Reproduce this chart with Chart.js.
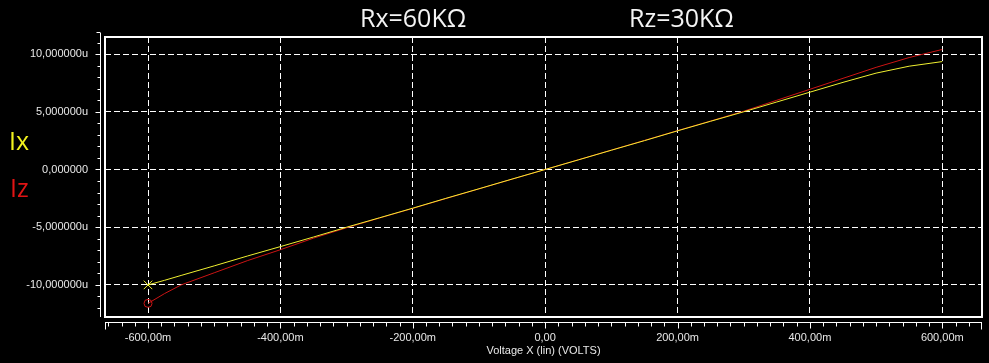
<!DOCTYPE html>
<html>
<head>
<meta charset="utf-8">
<script src="https://cdn.jsdelivr.net/npm/chart.js@4.4.1/dist/chart.umd.min.js"></script>
<style>
  html, body { margin: 0; padding: 0; background: #000; }
  #wrap { position: relative; width: 989px; height: 363px; background: #000; }
  #plot { position: absolute; left: 0; top: 0; }
  .note { position: absolute; font-family: "Open Sans", sans-serif; font-size: 25px; line-height: 1; white-space: nowrap; }
</style>
</head>
<body>
<div id="wrap">
  <canvas id="plot" width="989" height="363"></canvas>
  <div class="note" style="left:360px; top:5px; color:#f4f4f4;">Rx=60KΩ</div>
  <div class="note" style="left:629px; top:5px; color:#f4f4f4;">Rz=30KΩ</div>
  <div class="note" style="left:9px; top:128px; color:#f2f21e;">Ix</div>
  <div class="note" style="left:10px; top:175px; color:#e01414;">Iz</div>
</div>
<script>
// sweep voltage (mV) and the two currents (uA)
const voltage = [-600, -575, -550, -500, -450, -400, -350, -300, -250, -200, -150, -100, -50,
                 0, 50, 100, 150, 200, 250, 300, 350, 400, 450, 500, 550, 600];
const ix = [-10.0, -9.6, -9.18, -8.35, -7.5, -6.68, -5.85, -5.0, -4.18, -3.35, -2.5, -1.67, -0.83,
            0, 0.83, 1.67, 2.5, 3.35, 4.18, 5.0, 5.85, 6.7, 7.55, 8.35, 8.95, 9.35];
const iz = [-11.6, -10.75, -10.0, -8.95, -7.9, -6.95, -5.95, -5.05, -4.2, -3.37, -2.52, -1.68, -0.84,
            0, 0.84, 1.68, 2.52, 3.37, 4.2, 5.05, 6.0, 6.95, 7.9, 8.85, 9.7, 10.4];

const xTickValues = [-600, -400, -200, 0, 200, 400, 600];
const xTickLabels = ['-600,00m', '-400,00m', '-200,00m', '0,00', '200,00m', '400,00m', '600,00m'];
const yTickValues = [-10, -5, 0, 5, 10];
const yTickLabels = ['-10,000000u', '-5,000000u', '0,000000', '5,000000u', '10,000000u'];

const labelFont = { family: '"Liberation Sans", Arial, sans-serif', size: 11 };

// frame + the detached axis rulers with minor ticks
const framePlugin = {
    id: 'frame',
    afterDraw(chart) {
        const c = chart.ctx;
        const a = chart.chartArea;
        const xs = chart.scales.x;
        const ys = chart.scales.y;
        c.save();
        c.strokeStyle = '#ffffff';
        c.lineWidth = 2;
        c.strokeRect(a.left, a.top, a.right - a.left, a.bottom - a.top);

        c.lineWidth = 1;
        // x ruler
        const ry = a.bottom + 5.5;
        c.beginPath();
        c.moveTo(a.left, ry);
        c.lineTo(a.right, ry);
        c.moveTo(a.left + 0.5, ry);
        c.lineTo(a.left + 0.5, ry + 7);
        c.moveTo(a.right - 0.5, ry);
        c.lineTo(a.right - 0.5, ry + 7);
        for (let v = -660; v <= 660; v += 20) {
            const px = Math.round(xs.getPixelForValue(v)) + 0.5;
            if (px < a.left + 2 || px > a.right - 2) continue;
            const len = (v % 200 === 0) ? 6 : 4;
            c.moveTo(px, ry);
            c.lineTo(px, ry + len);
        }
        c.stroke();

        // y ruler
        const rx = a.left - 4.5;
        c.beginPath();
        c.moveTo(rx, a.top - 4);
        c.lineTo(rx, a.bottom);
        c.moveTo(rx, a.top - 4.5);
        c.lineTo(rx - 4, a.top - 4.5);
        for (let v = -12; v <= 11; v += 1) {
            const py = Math.round(ys.getPixelForValue(v)) + 0.5;
            const len = (v % 5 === 0) ? 5 : 3;
            c.moveTo(rx, py);
            c.lineTo(rx - len, py);
        }
        c.stroke();
        c.restore();
    }
};

new Chart(document.getElementById('plot'), {
    type: 'line',
    data: {
        datasets: [
            {
                label: 'Ix',
                data: voltage.map((v, i) => ({ x: v, y: ix[i] })),
                borderColor: '#f0f030',
                borderWidth: 1,
                tension: 0,
                pointStyle: 'crossRot',
                pointRadius: (ctx) => ctx.dataIndex === 0 ? 6 : 0,
                pointBorderColor: '#f0f030',
                pointBorderWidth: 1
            },
            {
                label: 'Iz',
                data: voltage.map((v, i) => ({ x: v, y: iz[i] })),
                borderColor: '#cc1414',
                borderWidth: 1,
                tension: 0,
                pointStyle: 'circle',
                pointRadius: (ctx) => ctx.dataIndex === 0 ? 4 : 0,
                pointBorderColor: '#cc1414',
                pointBackgroundColor: 'rgba(0,0,0,0)',
                pointBorderWidth: 1
            }
        ]
    },
    options: {
        responsive: false,
        animation: false,
        events: [],
        layout: { padding: { top: 37, right: 7, left: 0, bottom: 0 } },
        scales: {
            x: {
                type: 'linear',
                min: -665,
                max: 660,
                afterBuildTicks: (s) => { s.ticks = xTickValues.map(v => ({ value: v })); },
                afterFit: (s) => { s.height = 46; },
                ticks: {
                    color: '#e8e8e8',
                    font: labelFont,
                    padding: 14,
                    maxRotation: 0,
                    autoSkip: false,
                    callback: (v, i) => xTickLabels[i]
                },
                grid: { color: '#ffffff', lineWidth: 1, drawTicks: false },
                border: { display: false, dash: [6, 3] },
                title: {
                    display: true,
                    text: 'Voltage X (lin) (VOLTS)',
                    color: '#e8e8e8',
                    font: labelFont,
                    padding: { top: 0, bottom: 5 }
                }
            },
            y: {
                type: 'linear',
                min: -12.78,
                max: 11.48,
                afterBuildTicks: (s) => { s.ticks = yTickValues.map(v => ({ value: v })); },
                afterFit: (s) => { s.width = 105; },
                ticks: {
                    color: '#e8e8e8',
                    font: labelFont,
                    padding: 17,
                    autoSkip: false,
                    callback: (v, i) => yTickLabels[i]
                },
                grid: { color: '#ffffff', lineWidth: 1, drawTicks: false },
                border: { display: false, dash: [6, 3] }
            }
        },
        plugins: {
            legend: { display: false },
            tooltip: { enabled: false }
        }
    },
    plugins: [framePlugin]
});
</script>
</body>
</html>
